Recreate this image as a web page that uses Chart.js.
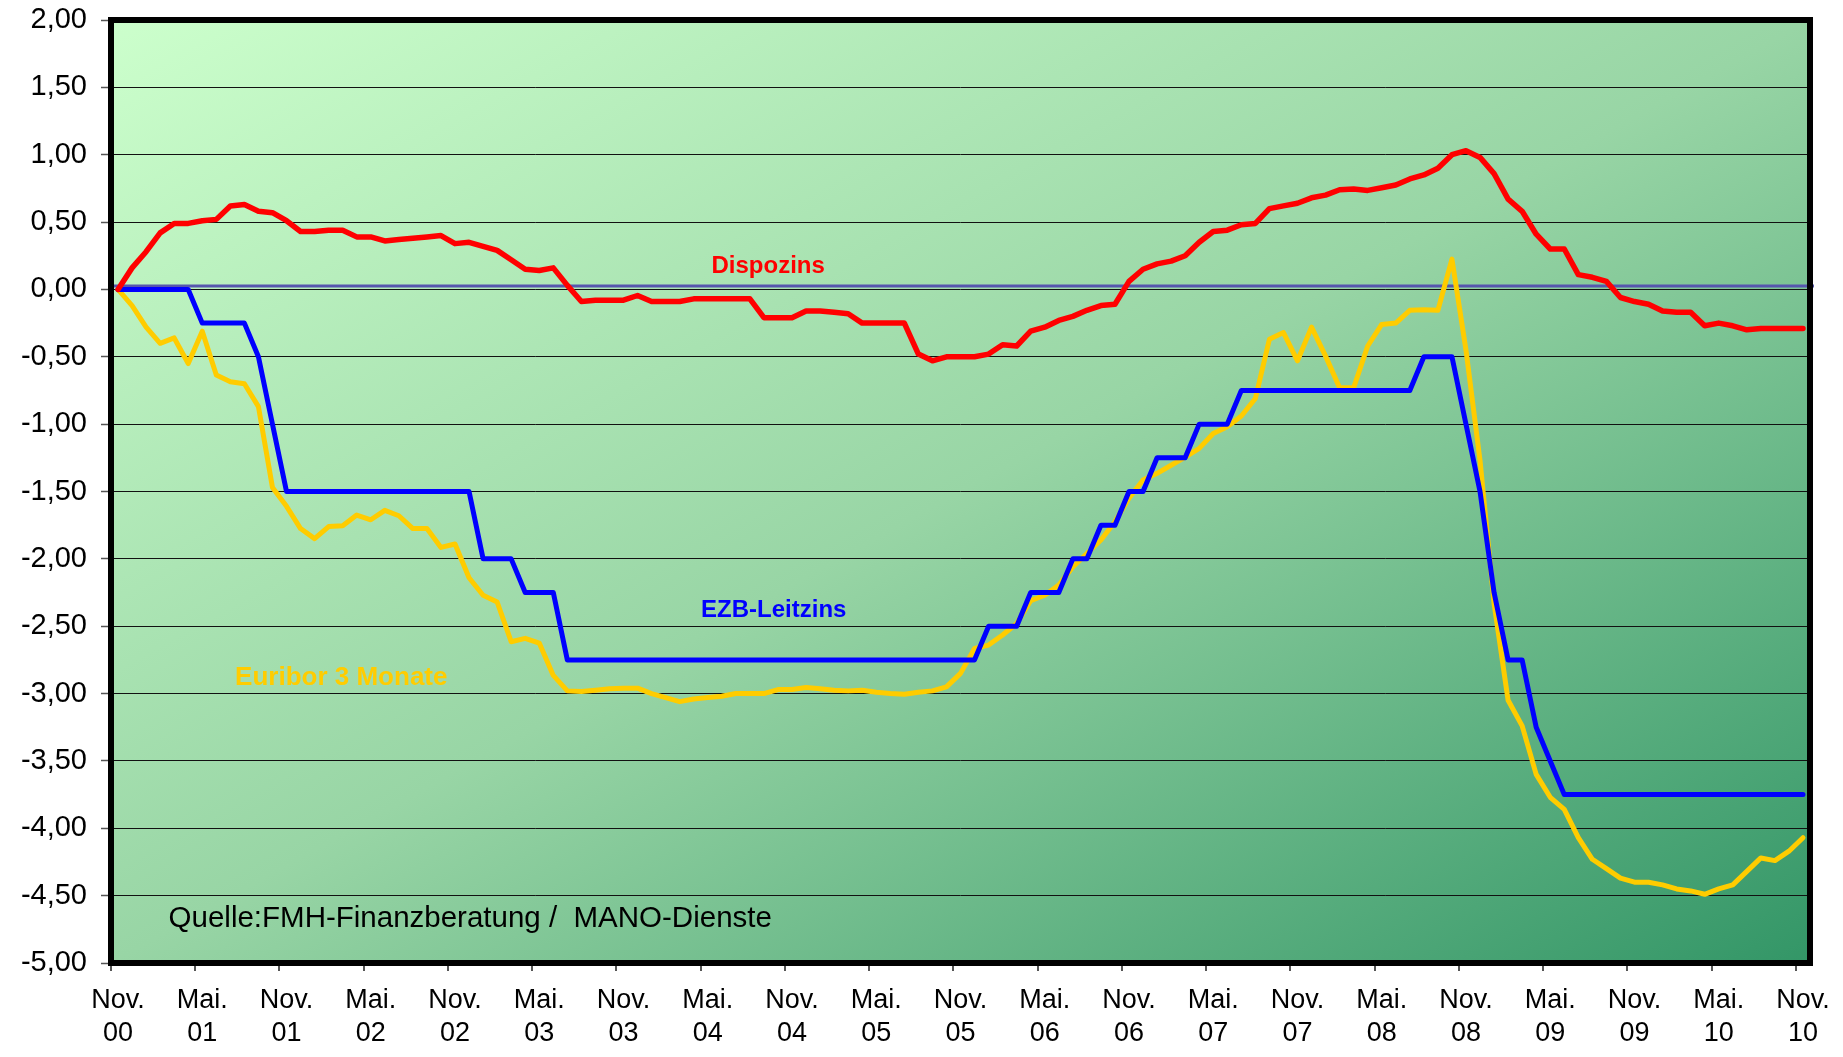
<!DOCTYPE html>
<html lang="de">
<head>
<meta charset="utf-8">
<title>Dispozins, EZB-Leitzins und Euribor 3 Monate</title>
<script src="https://cdn.jsdelivr.net/npm/chart.js@4.4.1/dist/chart.umd.min.js"></script>
<style>
  html, body { margin: 0; padding: 0; background: #fff; }
  canvas { display: block; }
</style>
</head>
<body>
<canvas id="chart" width="1843" height="1057"></canvas>
<script>
// Veränderung in Prozentpunkten gegenüber Nov. 2000, monatlich
const MONTHS = [
  'Nov 00', 'Dez 00',
  'Jan 01', 'Feb 01', 'Mär 01', 'Apr 01', 'Mai 01', 'Jun 01', 'Jul 01', 'Aug 01', 'Sep 01', 'Okt 01', 'Nov 01', 'Dez 01',
  'Jan 02', 'Feb 02', 'Mär 02', 'Apr 02', 'Mai 02', 'Jun 02', 'Jul 02', 'Aug 02', 'Sep 02', 'Okt 02', 'Nov 02', 'Dez 02',
  'Jan 03', 'Feb 03', 'Mär 03', 'Apr 03', 'Mai 03', 'Jun 03', 'Jul 03', 'Aug 03', 'Sep 03', 'Okt 03', 'Nov 03', 'Dez 03',
  'Jan 04', 'Feb 04', 'Mär 04', 'Apr 04', 'Mai 04', 'Jun 04', 'Jul 04', 'Aug 04', 'Sep 04', 'Okt 04', 'Nov 04', 'Dez 04',
  'Jan 05', 'Feb 05', 'Mär 05', 'Apr 05', 'Mai 05', 'Jun 05', 'Jul 05', 'Aug 05', 'Sep 05', 'Okt 05', 'Nov 05', 'Dez 05',
  'Jan 06', 'Feb 06', 'Mär 06', 'Apr 06', 'Mai 06', 'Jun 06', 'Jul 06', 'Aug 06', 'Sep 06', 'Okt 06', 'Nov 06', 'Dez 06',
  'Jan 07', 'Feb 07', 'Mär 07', 'Apr 07', 'Mai 07', 'Jun 07', 'Jul 07', 'Aug 07', 'Sep 07', 'Okt 07', 'Nov 07', 'Dez 07',
  'Jan 08', 'Feb 08', 'Mär 08', 'Apr 08', 'Mai 08', 'Jun 08', 'Jul 08', 'Aug 08', 'Sep 08', 'Okt 08', 'Nov 08', 'Dez 08',
  'Jan 09', 'Feb 09', 'Mär 09', 'Apr 09', 'Mai 09', 'Jun 09', 'Jul 09', 'Aug 09', 'Sep 09', 'Okt 09', 'Nov 09', 'Dez 09',
  'Jan 10', 'Feb 10', 'Mär 10', 'Apr 10', 'Mai 10', 'Jun 10', 'Jul 10', 'Aug 10', 'Sep 10', 'Okt 10', 'Nov 10'
];

// one label every 6 months
const TICK_LABELS = [
  ['Nov.', '00'], ['Mai.', '01'], ['Nov.', '01'], ['Mai.', '02'], ['Nov.', '02'], ['Mai.', '03'],
  ['Nov.', '03'], ['Mai.', '04'], ['Nov.', '04'], ['Mai.', '05'], ['Nov.', '05'], ['Mai.', '06'],
  ['Nov.', '06'], ['Mai.', '07'], ['Nov.', '07'], ['Mai.', '08'], ['Nov.', '08'], ['Mai.', '09'],
  ['Nov.', '09'], ['Mai.', '10'], ['Nov.', '10']
];

const DISPOZINS = [
  0, 0.16, 0.28, 0.42, 0.49, 0.49, 0.51, 0.52, 0.62, 0.63, 0.58, 0.57,
  0.51, 0.43, 0.43, 0.44, 0.44, 0.39, 0.39, 0.36, 0.37, 0.38, 0.39, 0.40,
  0.34, 0.35, 0.32, 0.29, 0.22, 0.15, 0.14, 0.16, 0.03, -0.09, -0.08, -0.08,
  -0.08, -0.045, -0.09, -0.09, -0.09, -0.07, -0.07, -0.07, -0.07, -0.07, -0.21, -0.21,
  -0.21, -0.16, -0.16, -0.17, -0.18, -0.25, -0.25, -0.25, -0.25, -0.48, -0.53, -0.50,
  -0.50, -0.50, -0.48, -0.41, -0.42, -0.31, -0.28, -0.23, -0.20, -0.155, -0.12, -0.11,
  0.06, 0.15, 0.19, 0.21, 0.25, 0.35, 0.43, 0.44, 0.48, 0.49, 0.60, 0.62,
  0.64, 0.68, 0.70, 0.74, 0.745, 0.735, 0.755, 0.775, 0.82, 0.85, 0.90, 1.00,
  1.03, 0.98, 0.86, 0.67, 0.58, 0.41, 0.30, 0.30, 0.11, 0.09, 0.06, -0.06,
  -0.09, -0.11, -0.16, -0.17, -0.17, -0.27, -0.25, -0.27, -0.30, -0.29, -0.29, -0.29,
  -0.29
];

const EZB_LEITZINS = [
  0, 0, 0, 0, 0, 0, -0.25, -0.25, -0.25, -0.25, -0.5, -1.0,
  -1.5, -1.5, -1.5, -1.5, -1.5, -1.5, -1.5, -1.5, -1.5, -1.5, -1.5, -1.5,
  -1.5, -1.5, -2.0, -2.0, -2.0, -2.25, -2.25, -2.25, -2.75, -2.75, -2.75, -2.75,
  -2.75, -2.75, -2.75, -2.75, -2.75, -2.75, -2.75, -2.75, -2.75, -2.75, -2.75, -2.75,
  -2.75, -2.75, -2.75, -2.75, -2.75, -2.75, -2.75, -2.75, -2.75, -2.75, -2.75, -2.75,
  -2.75, -2.75, -2.5, -2.5, -2.5, -2.25, -2.25, -2.25, -2.0, -2.0, -1.75, -1.75,
  -1.5, -1.5, -1.25, -1.25, -1.25, -1.0, -1.0, -1.0, -0.75, -0.75, -0.75, -0.75,
  -0.75, -0.75, -0.75, -0.75, -0.75, -0.75, -0.75, -0.75, -0.75, -0.5, -0.5, -0.5,
  -1.0, -1.5, -2.25, -2.75, -2.75, -3.25, -3.5, -3.75, -3.75, -3.75, -3.75, -3.75,
  -3.75, -3.75, -3.75, -3.75, -3.75, -3.75, -3.75, -3.75, -3.75, -3.75, -3.75, -3.75,
  -3.75
];

const EURIBOR_3M = [
  0, -0.12, -0.28, -0.40, -0.36, -0.55, -0.31, -0.635, -0.685, -0.70, -0.87, -1.47,
  -1.61, -1.775, -1.85, -1.76, -1.755, -1.675, -1.71, -1.64, -1.68, -1.775, -1.775, -1.915,
  -1.89, -2.14, -2.27, -2.32, -2.615, -2.59, -2.625, -2.865, -2.98, -2.985, -2.975, -2.965,
  -2.96, -2.96, -3.00, -3.03, -3.06, -3.04, -3.03, -3.02, -3.00, -3.00, -3.00, -2.97,
  -2.97, -2.955, -2.965, -2.975, -2.98, -2.975, -2.99, -3.00, -3.005, -2.99, -2.98, -2.95,
  -2.85, -2.665, -2.64, -2.565, -2.48, -2.31, -2.27, -2.195, -2.06, -1.96, -1.86, -1.725,
  -1.55, -1.415, -1.365, -1.305, -1.245, -1.18, -1.07, -1.02, -0.94, -0.81, -0.37, -0.32,
  -0.53, -0.28, -0.495, -0.73, -0.73, -0.42, -0.26, -0.25, -0.155, -0.15, -0.155, 0.225,
  -0.45, -1.27, -2.33, -3.05, -3.24, -3.60, -3.77, -3.86, -4.07, -4.23, -4.30, -4.37,
  -4.40, -4.40, -4.42, -4.45, -4.465, -4.49, -4.45, -4.42, -4.32, -4.22, -4.24, -4.17,
  -4.07
];

const Y_MIN = -5;
const Y_MAX = 2;
const Y_STEP = 0.5;
const ZERO_MARK = 0.025;

const FONT = 'Liberation Sans, Arial, Helvetica, sans-serif';

// texts inside the plot, placed in data coordinates (month index, value)
const notes = [
  { text: 'Dispozins', at: [46.3, 0.17], color: '#ff0000', font: 'bold 24px ' + FONT, align: 'center' },
  { text: 'EZB-Leitzins', at: [46.7, -2.38], color: '#0000ff', font: 'bold 24px ' + FONT, align: 'center' },
  { text: 'Euribor 3 Monate', at: [15.9, -2.88], color: '#ffcc00', font: 'bold 26px ' + FONT, align: 'center' },
  { text: 'Quelle:FMH-Finanzberatung /  MANO-Dienste', at: [3.6, -4.675], color: '#000000', font: '29.5px ' + FONT, align: 'left' }
];

const plotDecor = {
  id: 'plotDecor',
  beforeDraw(chart) {
    const { ctx, chartArea: a } = chart;
    const w = a.right - a.left;
    const h = a.bottom - a.top;
    // diagonal gradient, light top-left to dark bottom-right
    const t = 2 * w * h / (w * w + h * h);
    const g = ctx.createLinearGradient(a.left, a.top, a.left + t * h, a.top + t * w);
    g.addColorStop(0, '#ccffcc');
    g.addColorStop(0.5, '#98d5a5');
    g.addColorStop(1, '#339667');
    ctx.save();
    ctx.fillStyle = g;
    ctx.fillRect(a.left, a.top, w, h);
    ctx.restore();
  },
  beforeDatasetsDraw(chart) {
    const { ctx, chartArea: a, scales } = chart;
    const y = scales.y.getPixelForValue(ZERO_MARK);
    ctx.save();
    ctx.strokeStyle = '#5656ae';
    ctx.lineWidth = 3;
    ctx.beginPath();
    ctx.moveTo(a.left, y);
    ctx.lineTo(a.right + 4, y);
    ctx.stroke();
    ctx.restore();
  },
  afterDatasetsDraw(chart) {
    const { ctx, chartArea: a, scales } = chart;
    ctx.save();
    ctx.strokeStyle = '#000';
    ctx.lineWidth = 6;
    ctx.strokeRect(a.left, a.top, a.right - a.left, a.bottom - a.top);
    ctx.textBaseline = 'middle';
    notes.forEach(n => {
      ctx.font = n.font;
      ctx.fillStyle = n.color;
      ctx.textAlign = n.align;
      ctx.fillText(n.text, scales.x.getPixelForValue(n.at[0]), scales.y.getPixelForValue(n.at[1]));
    });
    ctx.restore();
  }
};

const line = (label, data, color, width) => ({
  label,
  data,
  borderColor: color,
  backgroundColor: color,
  borderWidth: width,
  pointRadius: 0,
  tension: 0,
  borderJoinStyle: 'round',
  borderCapStyle: 'round',
  fill: false
});

new Chart(document.getElementById('chart'), {
  type: 'line',
  data: {
    labels: MONTHS,
    datasets: [
      line('Dispozins', DISPOZINS, '#ff0000', 5.5),
      line('EZB-Leitzins', EZB_LEITZINS, '#0000ff', 5),
      line('Euribor 3 Monate', EURIBOR_3M, '#ffcc00', 5)
    ]
  },
  options: {
    responsive: false,
    animation: false,
    devicePixelRatio: 1,
    layout: { padding: { top: 20, right: 33, left: 0, bottom: 0 } },
    plugins: {
      legend: { display: false },
      tooltip: { enabled: false }
    },
    scales: {
      x: {
        type: 'category',
        offset: true,
        afterFit: s => { s.height = 94; },
        border: { display: false },
        grid: {
          offset: true,
          drawOnChartArea: false,
          tickLength: 8,
          tickWidth: 2,
          lineWidth: 2,
          color: c => (c.index % 6 === 0 ? '#555' : 'rgba(0,0,0,0)')
        },
        ticks: {
          autoSkip: false,
          maxRotation: 0,
          minRotation: 0,
          padding: 13,
          color: '#000',
          font: { family: FONT, size: 27, lineHeight: 33 / 27 },
          callback: (v, i) => (i % 6 === 0 ? TICK_LABELS[i / 6] : '')
        }
      },
      y: {
        min: Y_MIN,
        max: Y_MAX,
        afterFit: s => {
          s.width = 111;
          s.paddingTop = 0;
          s.paddingBottom = 0;
        },
        border: { display: false },
        grid: {
          color: '#111',
          lineWidth: 1,
          tickLength: 10,
          tickColor: '#555',
          tickWidth: 1.5
        },
        ticks: {
          stepSize: Y_STEP,
          padding: 14,
          color: '#000',
          font: { family: FONT, size: 29 },
          callback: v => v.toFixed(2).replace('.', ',')
        }
      }
    }
  },
  plugins: [plotDecor]
});
</script>
</body>
</html>
